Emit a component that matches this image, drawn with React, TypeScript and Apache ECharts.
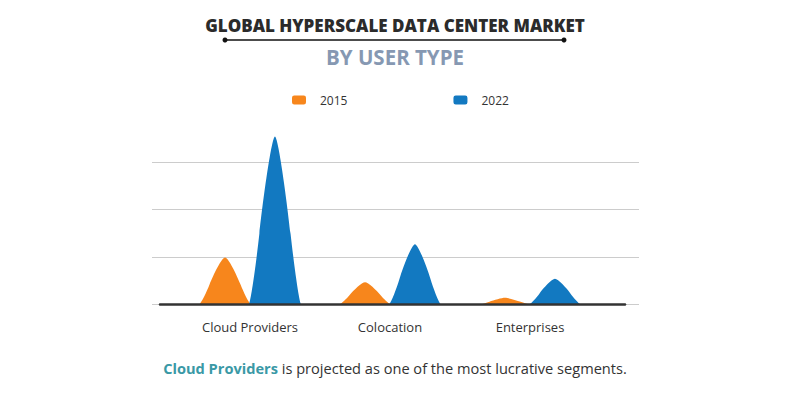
import React, { useEffect, useRef } from "react";
import * as echarts from "echarts";

const categories = ["Cloud Providers", "Colocation", "Enterprises"];
const values2015 = [9.9, 4.7, 1.4];
const values2022 = [35.4, 12.7, 5.4];
const gridTicks = [0, 10, 20, 30];

const BELL =
  "path://M0,100 C5,96 15,72 20,58 C28,35.6 44,0 50,0 C56,0 72,35.6 80,58 C85,72 95,96 100,100 Z";

export default function App() {
  const ref = useRef<HTMLDivElement>(null);
  useEffect(() => {
    if (!ref.current) return;
    const chart = echarts.init(ref.current, undefined, { renderer: "svg" });
    const font = "'Open Sans', sans-serif";
    const baseBottom = 92.5;
    chart.setOption({
      animation: false,
      backgroundColor: "#ffffff",
      title: [
        {
          text: "GLOBAL HYPERSCALE DATA CENTER MARKET",
          left: "center",
          top: 12,
          textStyle: { fontFamily: font, fontWeight: 800, fontSize: 17, color: "#2b2b2b" },
        },
        {
          text: "BY USER TYPE",
          left: "center",
          top: 41,
          textStyle: { fontFamily: font, fontWeight: "bold", fontSize: 20.5, color: "#8698b2" },
        },
        {
          text: "{a|Cloud Providers}{b| is projected as one of the most lucrative segments.}",
          left: "center",
          top: 355,
          textStyle: {
            fontWeight: "normal",
            rich: {
              a: { fontFamily: font, fontWeight: "bold", fontSize: 14.6, color: "#3a99a6" },
              b: { fontFamily: font, fontWeight: "normal", fontSize: 14.6, color: "#333333" },
            },
          },
        },
      ],
      graphic: [
        { type: "line", shape: { x1: 225, y1: 40, x2: 564, y2: 40 }, style: { stroke: "#111", lineWidth: 1.5 } },
        { type: "circle", shape: { cx: 225, cy: 40, r: 2.5 }, style: { fill: "#111" } },
        { type: "circle", shape: { cx: 564, cy: 40, r: 2.5 }, style: { fill: "#111" } },
      ],
      legend: {
        data: ["2015", "2022"],
        left: 292,
        top: 94,
        padding: 0,
        icon: "roundRect",
        itemWidth: 14,
        itemHeight: 9,
        itemGap: 106,
        textStyle: { fontFamily: font, fontSize: 12, color: "#333", padding: [0, 0, 0, 9] },
      },
      grid: [
        { left: 152, right: 151, top: 304.5 - 142.5, bottom: baseBottom },
        { left: 180, right: 190, top: 304.5 - 190, bottom: baseBottom },
        { left: 160, right: 165, top: 304.5 - 190, bottom: baseBottom },
      ],
      xAxis: [
        { gridIndex: 0, type: "category", data: categories, show: false },
        {
          gridIndex: 1,
          type: "category",
          data: categories,
          axisLine: { show: false },
          axisTick: { show: false },
          axisLabel: { margin: 16, fontFamily: font, fontSize: 13, color: "#333" },
        },
        {
          gridIndex: 2,
          type: "category",
          data: categories,
          axisLine: { show: true, lineStyle: { color: "#333", width: 2.5 } },
          axisTick: { show: false },
          axisLabel: { show: false },
          z: 5,
        },
      ],
      yAxis: [
        {
          gridIndex: 0,
          type: "value",
          min: gridTicks[0],
          max: gridTicks[gridTicks.length - 1],
          interval: 10,
          axisLine: { show: false },
          axisTick: { show: false },
          axisLabel: { show: false },
          splitLine: { show: true, lineStyle: { color: "#cccccc", width: 1 } },
        },
        { gridIndex: 1, type: "value", min: 0, max: 40, show: false, splitLine: { show: false } },
        { gridIndex: 2, type: "value", min: 0, max: 40, show: false, splitLine: { show: false } },
      ],
      series: [
        {
          name: "2015",
          type: "pictorialBar",
          xAxisIndex: 1,
          yAxisIndex: 1,
          data: values2015,
          symbol: BELL,
          symbolSize: ["100%", "100%"],
          barWidth: 52,
          barGap: "-4%",
          itemStyle: { color: "#f7861c" },
          z: 3,
        },
        {
          name: "2022",
          type: "pictorialBar",
          xAxisIndex: 1,
          yAxisIndex: 1,
          data: values2022,
          symbol: BELL,
          symbolSize: ["100%", "100%"],
          barWidth: 52,
          barGap: "-4%",
          itemStyle: { color: "#1279c1" },
          z: 3,
        },
      ],
    });
    return () => chart.dispose();
  }, []);
  return <div ref={ref} style={{ width: 790, height: 397, margin: -8 }} />;
}
